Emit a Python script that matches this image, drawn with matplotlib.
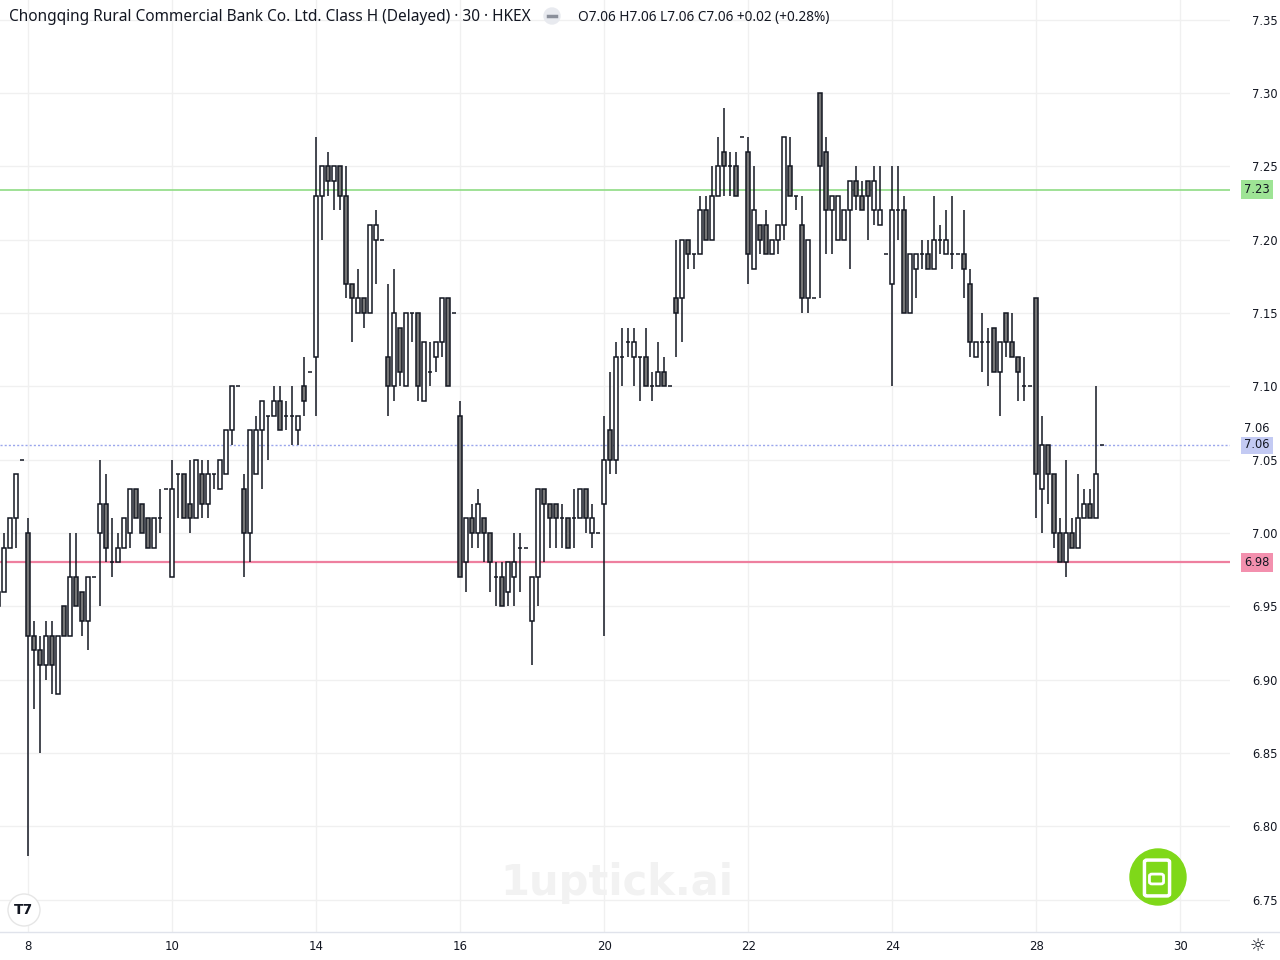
import matplotlib
matplotlib.use('Agg')
import matplotlib.pyplot as plt
from matplotlib.patches import Ellipse, FancyBboxPatch
import numpy as np

# 30 min bars, 12 per session, first bar sits 5 bars before the "8" tick
first_bar = -5

opens = [6.96, 6.96, 6.99, 7.01, 7.05,
         7.00, 6.93, 6.92, 6.91, 6.93, 6.89, 6.95, 6.93, 6.97, 6.96, 6.94, 6.97,
         7.00, 7.02, 6.98, 6.98, 6.99, 7.00, 7.03, 7.02, 7.01, 6.99, 7.01, 7.03,
         6.97, 7.04, 7.04, 7.02, 7.01, 7.04, 7.02, 7.04, 7.03, 7.04, 7.07, 7.10,
         7.03, 7.00, 7.04, 7.07, 7.08, 7.08, 7.09, 7.08, 7.08, 7.07, 7.10, 7.11,
         7.12, 7.23, 7.25, 7.24, 7.25, 7.23, 7.17, 7.15, 7.16, 7.15, 7.20, 7.20,
         7.12, 7.10, 7.14, 7.10, 7.15, 7.15, 7.09, 7.11, 7.12, 7.13, 7.16, 7.15,
         7.08, 6.98, 7.01, 7.00, 7.01, 7.00, 6.97, 6.97, 6.96, 6.97, 6.99, 6.99,
         6.94, 6.97, 7.03, 7.02, 7.02, 7.01, 7.01, 7.01, 7.01, 7.03, 7.00, 7.00,
         7.02, 7.07, 7.05, 7.12, 7.13, 7.12, 7.12, 7.12, 7.10, 7.10, 7.11, 7.10,
         7.16, 7.16, 7.20, 7.19, 7.19, 7.22, 7.20, 7.23, 7.26, 7.25, 7.25, 7.27,
         7.26, 7.18, 7.21, 7.21, 7.19, 7.20, 7.21, 7.25, 7.23, 7.21, 7.16, 7.16,
         7.30, 7.26, 7.22, 7.20, 7.20, 7.22, 7.24, 7.23, 7.24, 7.22, 7.21, 7.19,
         7.17, 7.22, 7.22, 7.15, 7.18, 7.19, 7.19, 7.18, 7.20, 7.19, 7.19, 7.19,
         7.19, 7.17, 7.12, 7.13, 7.13, 7.14, 7.11, 7.15, 7.13, 7.12, 7.10, 7.10,
         7.16, 7.03, 7.06, 7.04, 7.00, 6.98, 7.00, 6.99, 7.01, 7.02, 7.01, 7.06]

highs = [6.96, 7.00, 7.01, 7.04, 7.05,
         7.01, 6.94, 6.93, 6.94, 6.94, 6.93, 6.95, 7.00, 7.00, 6.96, 6.97, 6.97,
         7.05, 7.04, 7.01, 7.00, 7.01, 7.03, 7.03, 7.02, 7.01, 7.01, 7.03, 7.03,
         7.05, 7.04, 7.04, 7.05, 7.05, 7.05, 7.05, 7.04, 7.05, 7.07, 7.10, 7.10,
         7.04, 7.07, 7.08, 7.09, 7.08, 7.10, 7.10, 7.09, 7.10, 7.08, 7.12, 7.11,
         7.27, 7.25, 7.26, 7.25, 7.25, 7.25, 7.17, 7.18, 7.16, 7.21, 7.22, 7.20,
         7.17, 7.18, 7.14, 7.15, 7.15, 7.15, 7.13, 7.13, 7.13, 7.16, 7.16, 7.15,
         7.09, 7.01, 7.02, 7.03, 7.01, 7.00, 6.98, 6.98, 6.98, 7.00, 7.00, 6.99,
         6.97, 7.03, 7.03, 7.02, 7.02, 7.02, 7.01, 7.03, 7.03, 7.03, 7.02, 7.00,
         7.08, 7.11, 7.13, 7.14, 7.14, 7.14, 7.12, 7.14, 7.11, 7.13, 7.12, 7.10,
         7.20, 7.20, 7.20, 7.19, 7.23, 7.23, 7.25, 7.27, 7.29, 7.26, 7.26, 7.27,
         7.27, 7.25, 7.21, 7.22, 7.20, 7.21, 7.27, 7.27, 7.23, 7.23, 7.20, 7.16,
         7.30, 7.27, 7.23, 7.23, 7.22, 7.24, 7.25, 7.24, 7.24, 7.25, 7.25, 7.19,
         7.25, 7.25, 7.23, 7.19, 7.19, 7.20, 7.20, 7.23, 7.21, 7.22, 7.23, 7.19,
         7.22, 7.18, 7.13, 7.15, 7.14, 7.14, 7.13, 7.15, 7.15, 7.12, 7.12, 7.10,
         7.16, 7.08, 7.06, 7.04, 7.01, 7.05, 7.01, 7.04, 7.03, 7.03, 7.10, 7.06]

lows = [6.95, 6.96, 6.99, 6.99, 7.05,
        6.78, 6.88, 6.85, 6.90, 6.89, 6.89, 6.93, 6.93, 6.95, 6.93, 6.92, 6.97,
        6.95, 6.98, 6.97, 6.98, 6.99, 6.99, 7.01, 7.00, 6.99, 6.99, 7.00, 7.03,
        6.97, 7.01, 7.01, 7.00, 7.01, 7.01, 7.01, 7.03, 7.03, 7.04, 7.06, 7.10,
        6.97, 6.98, 7.04, 7.03, 7.05, 7.08, 7.07, 7.07, 7.06, 7.06, 7.08, 7.11,
        7.08, 7.20, 7.23, 7.22, 7.22, 7.16, 7.13, 7.15, 7.14, 7.15, 7.17, 7.20,
        7.08, 7.09, 7.10, 7.10, 7.13, 7.09, 7.09, 7.10, 7.11, 7.12, 7.10, 7.15,
        6.97, 6.96, 6.99, 6.99, 6.98, 6.96, 6.95, 6.95, 6.95, 6.95, 6.96, 6.99,
        6.91, 6.95, 6.98, 6.99, 6.99, 6.99, 6.99, 6.99, 7.01, 7.00, 6.99, 7.00,
        6.93, 7.04, 7.04, 7.10, 7.12, 7.10, 7.09, 7.10, 7.09, 7.10, 7.10, 7.10,
        7.12, 7.13, 7.18, 7.18, 7.19, 7.20, 7.20, 7.23, 7.23, 7.23, 7.23, 7.27,
        7.17, 7.18, 7.19, 7.19, 7.19, 7.19, 7.20, 7.23, 7.22, 7.15, 7.15, 7.16,
        7.16, 7.19, 7.19, 7.20, 7.20, 7.18, 7.22, 7.22, 7.20, 7.21, 7.21, 7.19,
        7.10, 7.20, 7.15, 7.15, 7.16, 7.18, 7.18, 7.18, 7.19, 7.19, 7.18, 7.19,
        7.16, 7.12, 7.12, 7.11, 7.10, 7.11, 7.08, 7.12, 7.12, 7.09, 7.09, 7.10,
        7.01, 7.00, 7.02, 6.99, 6.98, 6.97, 6.99, 6.99, 7.01, 7.01, 7.01, 7.06]

closes = [6.95, 6.99, 7.01, 7.04, 7.05,
          6.93, 6.92, 6.91, 6.93, 6.91, 6.93, 6.93, 6.97, 6.95, 6.94, 6.97, 6.97,
          7.02, 6.99, 6.98, 6.99, 7.01, 7.03, 7.01, 7.00, 6.99, 7.01, 7.01, 7.03,
          7.03, 7.04, 7.01, 7.01, 7.05, 7.02, 7.04, 7.04, 7.05, 7.07, 7.10, 7.10,
          7.00, 7.07, 7.07, 7.09, 7.08, 7.09, 7.07, 7.08, 7.08, 7.08, 7.09, 7.11,
          7.23, 7.25, 7.24, 7.25, 7.23, 7.17, 7.16, 7.16, 7.15, 7.21, 7.21, 7.20,
          7.10, 7.15, 7.11, 7.15, 7.15, 7.10, 7.13, 7.11, 7.13, 7.16, 7.10, 7.15,
          6.97, 7.01, 7.00, 7.02, 7.00, 6.98, 6.97, 6.95, 6.98, 6.98, 6.99, 6.99,
          6.97, 7.03, 7.02, 7.01, 7.01, 7.01, 6.99, 7.01, 7.03, 7.01, 7.01, 7.00,
          7.05, 7.05, 7.12, 7.12, 7.13, 7.13, 7.12, 7.10, 7.10, 7.11, 7.10, 7.10,
          7.15, 7.20, 7.19, 7.19, 7.22, 7.20, 7.23, 7.25, 7.25, 7.25, 7.23, 7.27,
          7.19, 7.22, 7.20, 7.19, 7.20, 7.21, 7.27, 7.23, 7.23, 7.16, 7.20, 7.16,
          7.25, 7.22, 7.23, 7.23, 7.22, 7.24, 7.23, 7.22, 7.23, 7.24, 7.22, 7.19,
          7.22, 7.22, 7.15, 7.19, 7.19, 7.19, 7.18, 7.20, 7.20, 7.20, 7.19, 7.19,
          7.18, 7.13, 7.13, 7.13, 7.13, 7.11, 7.13, 7.13, 7.12, 7.11, 7.10, 7.10,
          7.04, 7.06, 7.04, 7.00, 6.98, 7.00, 6.99, 7.01, 7.02, 7.01, 7.04, 7.06]

day_ticks = [0, 24, 48, 72, 96, 120, 144, 168, 192]
day_labels = ['8', '10', '14', '16', '20', '22', '24', '28', '30']
price_ticks = [6.75, 6.80, 6.85, 6.90, 6.95, 7.00, 7.05, 7.10, 7.15, 7.20, 7.25, 7.30, 7.35]

green_level = 7.234
pink_level = 6.98
last_price = 7.06

title = 'Chongqing Rural Commercial Bank Co. Ltd. Class H (Delayed) · 30 · HKEX'
ohlc_text = 'O7.06 H7.06 L7.06 C7.06 +0.02 (+0.28%)'

ink = '#131722'
grid_c = '#f0f0f0'

W, H = 1280, 960
fig = plt.figure(figsize=(12.8, 9.6), dpi=100)
ax = fig.add_axes([0, 28 / H, 1230 / W, 932 / H])

x = np.arange(len(opens)) + first_bar
o = np.array(opens)
h = np.array(highs)
l = np.array(lows)
c = np.array(closes)

up = c >= o
fills = np.where(up, '#ffffff', '#767676')

# wicks then bodies
ax.vlines(x, l, h, color=ink, lw=1.1, zorder=3)
ax.bar(x, np.abs(c - o), bottom=np.minimum(o, c), width=0.68,
       color=fills, edgecolor=ink, linewidth=1.1, zorder=4)

ax.set_xlim(-28.3 / 6, (1230 - 28.3) / 6)
ax.set_ylim(7.00 - 399 / 1467, 7.00 + 533 / 1467)

# grid
for p in price_ticks:
    ax.axhline(p, color=grid_c, lw=1, zorder=0)
for t in day_ticks:
    ax.axvline(t, color=grid_c, lw=1, zorder=0)

# horizontal levels
ax.axhline(green_level, color='#8fdc84', lw=1.2, zorder=2)
ax.axhline(pink_level, color='#ee7f9f', lw=1.6, zorder=2)
ax.axhline(last_price, color='#9aa6ec', lw=1, ls=(0, (1.5, 1.5)), zorder=2)

for s in ax.spines.values():
    s.set_visible(False)

ax.yaxis.tick_right()
ax.set_yticks(price_ticks)
ax.set_yticklabels(['%.2f' % p for p in price_ticks], fontsize=8.3, color=ink,
                   family='DejaVu Sans')
ax.tick_params(axis='y', length=0, pad=16)
ax.set_xticks(day_ticks)
ax.set_xticklabels(day_labels, fontsize=8.5, color=ink)
ax.tick_params(axis='x', length=0, pad=6)

# bottom separator
fig.add_artist(plt.Line2D([0, 1], [28 / H, 28 / H], color='#e0e3eb', lw=1))


def price_box(price, txt, bg, fg=ink):
    yy = ax.transData.transform((0, price))[1] / H
    fig.text(1257 / W, yy, txt, ha='center', va='center', fontsize=8.3, color=fg,
             bbox=dict(boxstyle='square,pad=0.25', fc=bg, ec='none'))


def dot(cx, cy, r, **kw):
    # round circle in pixel units on the figure
    fig.add_artist(Ellipse((cx / W, 1 - cy / H), 2 * r / W, 2 * r / H,
                           transform=fig.transFigure, **kw))


price_box(green_level, '7.23', '#9ee495')
price_box(pink_level, '6.98', '#f390ae')
price_box(last_price, '7.06', '#c3caf3')
fig.text(1257 / W, 1 - 428 / H, '7.06', ha='center', va='center', fontsize=8.3,
         color=ink, bbox=dict(boxstyle='square,pad=0.25', fc='white', ec='none'))

# header
fig.text(9 / W, 1 - 17 / H, title, ha='left', va='center', fontsize=11.1, color=ink,
         family='Noto Sans')
dot(552, 16, 8, color='#e8eaef', zorder=5)
fig.add_artist(plt.Line2D([548 / W, 556 / W], [1 - 16 / H, 1 - 16 / H],
                          color='#8a8f9a', lw=2.5, zorder=6))
fig.text(578 / W, 1 - 17 / H, ohlc_text, ha='left', va='center', fontsize=9.8, color=ink,
         family='Noto Sans')

# watermark
fig.text(617 / W, 1 - 883 / H, '1uptick.ai', ha='center', va='center', fontsize=30,
         fontweight='bold', color='#f2f2f2', family='DejaVu Sans')

# green logo
dot(1158, 877, 28, color='#7fd819', zorder=5)
fig.add_artist(FancyBboxPatch((1147 / W, 1 - 894 / H), 20 / W, 32 / H,
                              boxstyle='round,pad=0.002', transform=fig.transFigure,
                              fc='none', ec='white', lw=2.5, zorder=6))
fig.add_artist(FancyBboxPatch((1152 / W, 1 - 882 / H), 9 / W, 6 / H,
                              boxstyle='round,pad=0.002', transform=fig.transFigure,
                              fc='none', ec='white', lw=2, zorder=6))

# tradingview badge
dot(24, 910, 16, fc='white', ec='#e6e6e6', lw=1, zorder=5)
fig.text(24 / W, 1 - 910 / H, 'T7', ha='center', va='center', fontsize=10,
         fontweight='heavy', color=ink, zorder=6)

# settings gear
fig.text(1258 / W, 1 - 946 / H, '\u263c', ha='center', va='center', fontsize=13,
         color=ink, family='DejaVu Sans')

fig.savefig('out.png', dpi=100)
